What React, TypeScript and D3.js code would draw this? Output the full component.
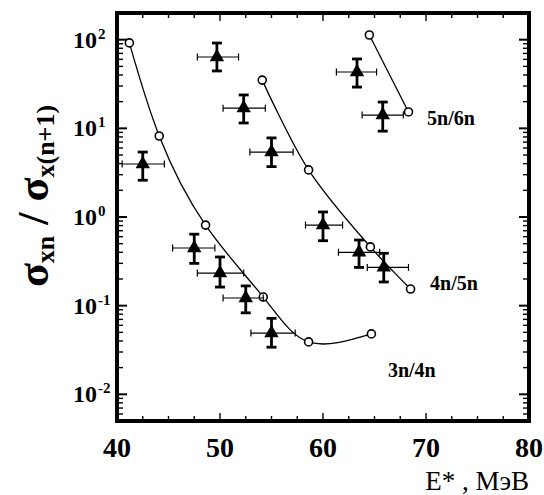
import React from "react";
import * as d3 from "d3";

// Theory curves (open circles)
const th34E = [41.2, 44.1, 48.6, 54.2, 58.6, 64.7];
const th34R = [92, 8.2, 0.81, 0.125, 0.039, 0.048];
const th45E = [54.1, 58.6, 64.6, 68.5];
const th45R = [35, 3.4, 0.46, 0.154];
const th56E = [64.5, 68.3];
const th56R = [113, 15.3];

// Experimental points (triangles with error bars)
const exp34E = [42.5, 47.5, 50.0, 52.5, 55.0];
const exp34Elo = [40.5, 45.4, 47.8, 50.3, 53.0];
const exp34Ehi = [44.6, 49.5, 52.3, 54.2, 57.3];
const exp34R = [3.96, 0.447, 0.233, 0.122, 0.049];
const exp34Rlo = [2.6, 0.3, 0.162, 0.083, 0.034];
const exp34Rhi = [5.4, 0.64, 0.354, 0.167, 0.072];

const exp45E = [49.7, 52.3, 55.0, 60.0, 63.5, 65.9];
const exp45Elo = [47.8, 50.3, 52.9, 58.3, 61.5, 64.3];
const exp45Ehi = [51.8, 54.4, 57.1, 61.9, 65.5, 68.3];
const exp45R = [63.8, 16.9, 5.4, 0.81, 0.4, 0.27];
const exp45Rlo = [44.4, 11.5, 3.7, 0.54, 0.27, 0.185];
const exp45Rhi = [91.7, 23.8, 7.8, 1.14, 0.55, 0.39];

const exp56E = [63.3, 65.8];
const exp56Elo = [61.3, 63.8];
const exp56Ehi = [65.2, 67.8];
const exp56R = [43.2, 14.1];
const exp56Rlo = [29.2, 9.3];
const exp56Rhi = [60.6, 19.8];

const seriesLabels = ["3n/4n", "4n/5n", "5n/6n"];
const labelE = [66.3, 70.4, 70.1];
const labelR = [0.0157, 0.15, 10.9];

const xTickLabels = [40, 50, 60, 70, 80];
const yDecades = [-2, -1, 0, 1, 2];

const W = 544, H = 495;
const L = 117, R = 529, T = 13, B = 421;
const serif = "Liberation Serif";

export default function App() {
  const x = d3.scaleLinear().domain([40, 80]).range([L, R]);
  const y = d3.scaleLog().domain([0.005, 200]).range([B, T]);

  const mkLine = (curve: any) =>
    d3
      .line<[number, number]>()
      .x((d) => x(d[0]))
      .y((d) => y(d[1]))
      .curve(curve);

  const theories = [
    [th34E, th34R, d3.curveNatural],
    [th45E, th45R, d3.curveCatmullRom.alpha(0.5)],
    [th56E, th56R, d3.curveLinear],
  ] as any[];
  const exps = [
    [exp34E, exp34Elo, exp34Ehi, exp34R, exp34Rlo, exp34Rhi],
    [exp45E, exp45Elo, exp45Ehi, exp45R, exp45Rlo, exp45Rhi],
    [exp56E, exp56Elo, exp56Ehi, exp56R, exp56Rlo, exp56Rhi],
  ];

  const tri = d3.symbol().type(d3.symbolTriangle).size(90)() as string;

  const xTicks = d3.range(40, 80.001, 2.5);
  const yMinor: number[] = [];
  for (let dd = -3; dd <= 2; dd++) {
    for (let k = 2; k <= 9; k++) {
      const v = k * Math.pow(10, dd);
      if (v > 0.005 && v < 200) yMinor.push(v);
    }
  }

  return (
    <svg
      width={W}
      height={H}
      style={{ position: "absolute", left: 0, top: 0, background: "#fff", fontFamily: serif }}
    >
      <rect width={W} height={H} fill="#fff" />
      <g stroke="#000" strokeWidth={1.4}>
        {xTicks.map((t, i) => {
          const major = Math.abs(t % 10) < 1e-6;
          const len = major ? 8 : 5;
          return (
            <g key={"xt" + i}>
              <line x1={x(t)} x2={x(t)} y1={B} y2={B - len} />
              <line x1={x(t)} x2={x(t)} y1={T} y2={T + len} />
            </g>
          );
        })}
        {yMinor.map((v, i) => (
          <g key={"ym" + i}>
            <line x1={L} x2={L + 6} y1={y(v)} y2={y(v)} />
            <line x1={R} x2={R - 6} y1={y(v)} y2={y(v)} />
          </g>
        ))}
        {yDecades.map((dd) => (
          <g key={"yM" + dd}>
            <line x1={L} x2={L + 10} y1={y(Math.pow(10, dd))} y2={y(Math.pow(10, dd))} strokeWidth={2} />
            <line x1={R} x2={R - 10} y1={y(Math.pow(10, dd))} y2={y(Math.pow(10, dd))} strokeWidth={2} />
          </g>
        ))}
      </g>
      <rect x={L} y={T} width={R - L} height={B - T} fill="none" stroke="#000" strokeWidth={4} />

      {theories.map(([es, rs, curve], si) => {
        const pts = (es as number[]).map((e, i) => [e, rs[i]] as [number, number]);
        return (
          <g key={"th" + si}>
            <path d={mkLine(curve)(pts) || ""} fill="none" stroke="#000" strokeWidth={1.3} />
            {pts.map((p, i) => (
              <circle key={i} cx={x(p[0])} cy={y(p[1])} r={4} fill="#fff" stroke="#000" strokeWidth={1.6} />
            ))}
          </g>
        );
      })}

      {exps.map(([es, elo, ehi, rs, rlo, rhi], si) => (
        <g key={"ex" + si} stroke="#000">
          {es.map((e, i) => {
            const cx = x(e), cy = y(rs[i]);
            return (
              <g key={i}>
                <line x1={x(elo[i])} x2={x(ehi[i])} y1={cy} y2={cy} strokeWidth={1.2} />
                <line x1={x(elo[i])} x2={x(elo[i])} y1={cy - 3.5} y2={cy + 3.5} strokeWidth={1.2} />
                <line x1={x(ehi[i])} x2={x(ehi[i])} y1={cy - 3.5} y2={cy + 3.5} strokeWidth={1.2} />
                <line x1={cx} x2={cx} y1={y(rlo[i])} y2={y(rhi[i])} strokeWidth={2.8} />
                <line x1={cx - 5} x2={cx + 5} y1={y(rlo[i])} y2={y(rlo[i])} strokeWidth={2.8} />
                <line x1={cx - 5} x2={cx + 5} y1={y(rhi[i])} y2={y(rhi[i])} strokeWidth={2.8} />
                <path d={tri} transform={`translate(${cx},${cy})`} fill="#000" stroke="none" />
              </g>
            );
          })}
        </g>
      ))}

      {seriesLabels.map((s, i) => (
        <text key={s} x={x(labelE[i])} y={y(labelR[i])} fontFamily={serif} fontWeight="bold" fontSize={20}>
          {s}
        </text>
      ))}

      {xTickLabels.map((t) => (
        <text key={"xl" + t} x={x(t)} y={457} textAnchor="middle" fontFamily={serif} fontWeight="bold" fontSize={28}>
          {t}
        </text>
      ))}
      {yDecades.map((dd) => {
        const yy = y(Math.pow(10, dd));
        return (
          <g key={"yl" + dd} fontFamily={serif} fontWeight="bold">
            <text x={97} y={yy + 8} textAnchor="end" fontSize={24}>10</text>
            <text x={98} y={yy - 1} textAnchor="start" fontSize={15}>{dd < 0 ? "-" + Math.abs(dd) : String(dd)}</text>
          </g>
        );
      })}

      <text x={529} y={490} textAnchor="end" fontFamily={serif} fontSize={27}>
        E* , МэВ
      </text>

      <text
        transform="translate(48,196) rotate(-90)"
        textAnchor="middle"
        fontFamily={serif}
        fontWeight="bold"
        fontSize={44}
      >
        <tspan>σ</tspan>
        <tspan fontSize={26} dy={6}>xn</tspan>
        <tspan dy={-6}> / σ</tspan>
        <tspan fontSize={26} dy={6}>x(n+1)</tspan>
      </text>
    </svg>
  );
}
